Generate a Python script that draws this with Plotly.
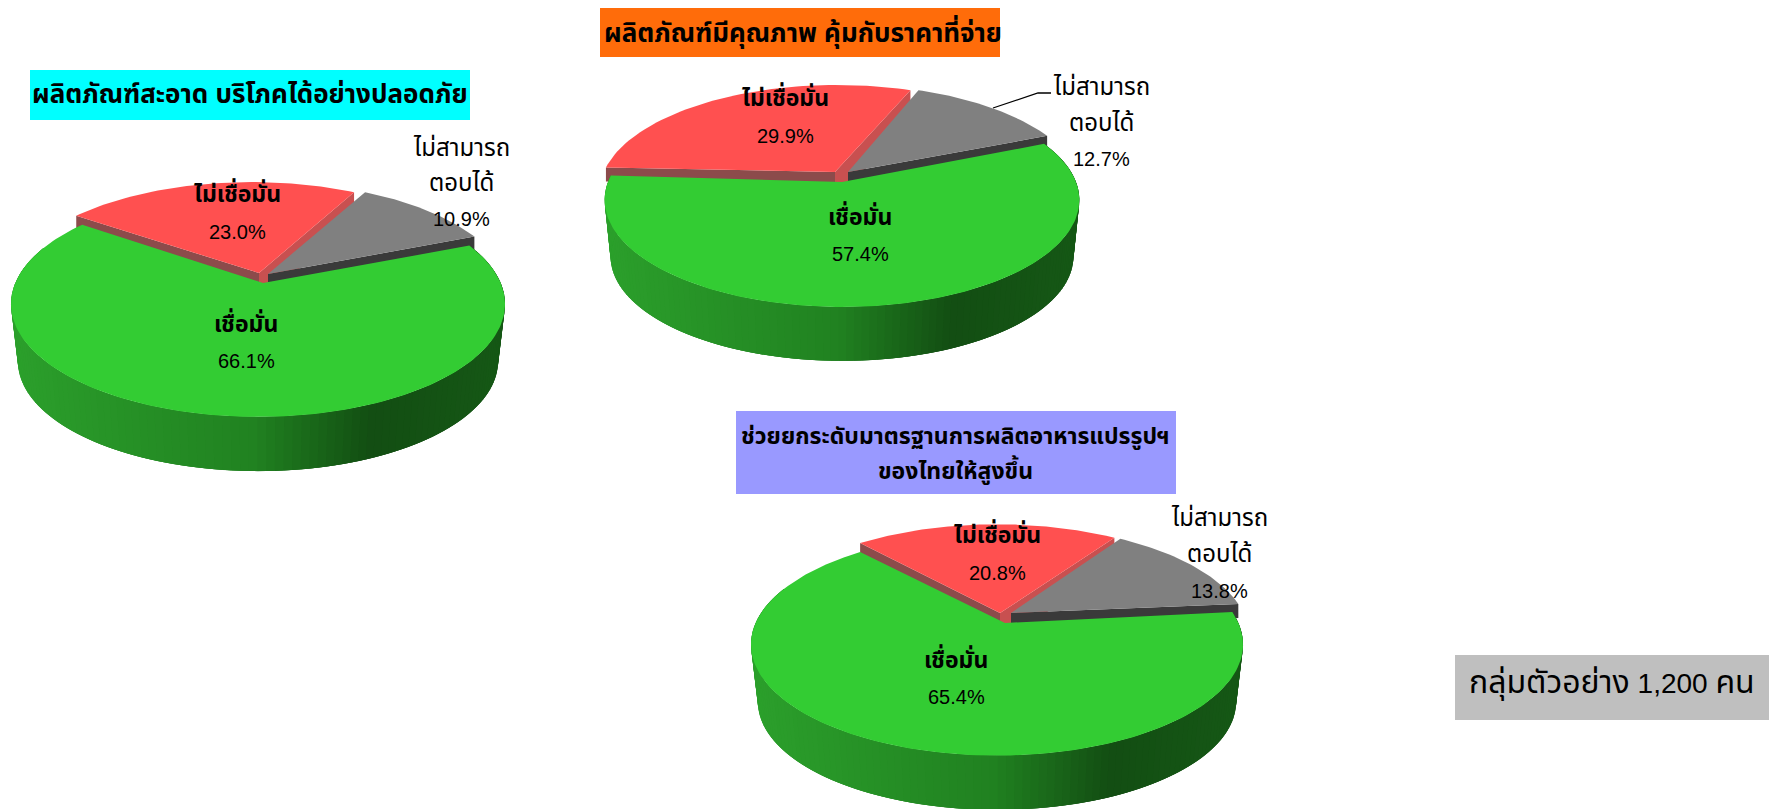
import numpy as np
import plotly.graph_objects as go

W, H_PAGE = 1769, 809

# ---- data ----
slice_names = ["เชื่อมั่น", "ไม่เชื่อมั่น", "ไม่สามารถ|ตอบได้"]
values_clean = [66.1, 23.0, 10.9]
values_quality = [57.4, 29.9, 12.7]
values_standard = [65.4, 20.8, 13.8]
title_clean = "ผลิตภัณฑ์สะอาด บริโภคได้อย่างปลอดภัย"
title_quality = "ผลิตภัณฑ์มีคุณภาพ คุ้มกับราคาที่จ่าย"
title_standard = ["ช่วยยกระดับมาตรฐานการผลิตอาหารแปรรูปฯ", "ของไทยให้สูงขึ้น"]
sample_note = ["กลุ่มตัวอย่าง", "1,200", "คน"]

FONT = "'Liberation Sans', 'Noto Sans Thai', Tahoma, Arial, sans-serif"
GREEN, RED, GREY = "#33cc33", "#ff5050", "#808080"
RED_L, RED_R, GREY_W = "#8c4b4b", "#c85050", "#3a3a3a"
GRAD = [(0, (44, 160, 44)), (0.5, (33, 130, 33)), (0.74, (19, 78, 19)), (1, (22, 88, 22))]
RADIAL_WALL = 14
RED_RIGHT_WALL = 30

pies = [
    dict(values=values_clean, cx=258, ax=263, ay=283, R=242.7, H=109, k=0.186, start=21.5, D=58, sc=0.972,
         red=(-4, -10), grey=(5, -9), red_arc=(-6, -9), grey_arc=(5, -9),
         green_lab=(246, 322, 361), red_lab=(237, 192, 232), grey_lab=(461, 147, 182, 219)),
    dict(values=values_quality, cx=842, ax=842, ay=182, R=234, H=104, k=0.168, start=23, D=57, sc=0.975,
         red=(-7, -10), grey=(6, -10), red_arc=(-5, -8), grey_arc=(3, -8),
         green_lab=(860, 215, 254), red_lab=(785, 96, 136), grey_lab=(1101, 86, 122, 159)),
    dict(values=values_standard, cx=997, ax=1005, ay=623, R=241.4, H=107, k=0.193, start=6, D=58, sc=0.972,
         red=(-5, -10), grey=(6, -10), red_arc=(0, -9), grey_arc=(6, -8),
         green_lab=(956, 658, 697), red_lab=(997, 533, 573), grey_lab=(1219, 517, 553, 591)),
]

fig = go.Figure()


def poly(xs, ys, color, lw=0):
    fig.add_trace(go.Scatter(x=list(xs), y=list(ys), mode="lines", fill="toself", fillcolor=color,
                             line=dict(color=color, width=lw), hoverinfo="skip", showlegend=False))


def grad_color(t):
    for (t0, c0), (t1, c1) in zip(GRAD, GRAD[1:]):
        if t <= t1:
            f = (t - t0) / (t1 - t0)
            return "rgb(%d,%d,%d)" % tuple(c0[i] + f * (c1[i] - c0[i]) for i in range(3))
    return "rgb(%d,%d,%d)" % GRAD[-1][1]


for p in pies:
    def proj(a):
        a = np.radians(a)
        s = 1 / (1 - p["k"] * np.sin(a))
        return p["R"] * np.cos(a) * s, p["H"] * np.sin(a) * s

    def top(a, off=(0, 0)):
        X, Y = proj(a)
        return p["cx"] + X + off[0], p["ay"] + Y + off[1]

    def bot(a, off=(0, 0)):
        X, Y = proj(a)
        return p["cx"] + p["sc"] * X + off[0], p["ay"] + p["sc"] * Y + p["D"] + off[1]

    g, r, y = p["values"]
    a0 = -p["start"]
    a1 = a0 + g * 3.6
    a2 = a1 + r * 3.6
    a3 = a2 + y * 3.6

    # red slice
    rax, ray = p["ax"] + p["red"][0], p["ay"] + p["red"][1]
    ex, ey = top(a1, p["red_arc"])
    poly([rax, ex, ex, rax], [ray, ey, ey + RADIAL_WALL, ray + RADIAL_WALL], RED_L)
    ex, ey = top(a2, p["red_arc"])
    poly([rax, ex, ex, rax], [ray, ey, ey + RED_RIGHT_WALL, ray + RED_RIGHT_WALL], RED_R)
    arc = np.linspace(a1, a2, 60)
    pts = [top(a, p["red_arc"]) for a in arc]
    poly([rax] + [q[0] for q in pts], [ray] + [q[1] for q in pts], RED)

    # grey slice
    gax, gay = p["ax"] + p["grey"][0], p["ay"] + p["grey"][1]
    ex, ey = top(a3, p["grey_arc"])
    poly([gax, ex, ex, gax], [gay, ey, ey + RADIAL_WALL, gay + RADIAL_WALL], GREY_W)
    arc = np.linspace(a2, a3, 40)
    pts = [top(a, p["grey_arc"]) for a in arc]
    poly([gax] + [q[0] for q in pts], [gay] + [q[1] for q in pts], GREY)

    # green wall, shaded across its width; each band overlaps the next to hide seams
    half = p["R"] / np.sqrt(1 - p["k"] ** 2)
    left, right = p["cx"] - half, p["cx"] + half
    wall = np.linspace(a0, min(a1, 200), 130)
    for i in range(len(wall) - 1):
        seg = wall[i:i + 4]
        tops = [top(a) for a in seg]
        bots = [bot(a) for a in seg[::-1]]
        t = np.clip((top(wall[i])[0] - left) / (right - left), 0, 1)
        poly([q[0] for q in tops + bots], [q[1] for q in tops + bots], grad_color(t))

    # green top
    arc = np.linspace(a0, a1, 180)
    pts = [top(a) for a in arc]
    poly([p["ax"]] + [q[0] for q in pts], [p["ay"]] + [q[1] for q in pts], GREEN)


def label(x, y, text, size=20, bold=False):
    if bold:
        text = "<b>%s</b>" % text
    fig.add_annotation(x=x, y=y, text=text, showarrow=False, xanchor="center", yanchor="middle",
                       font=dict(family=FONT, size=size, color="black"))


for p in pies:
    g, r, y = p["values"]
    gx, g1, g2 = p["green_lab"]
    label(gx, g1, slice_names[0], size=23, bold=True)
    label(gx, g2, "%.1f%%" % g)
    rx, r1, r2 = p["red_lab"]
    label(rx, r1, slice_names[1], size=23, bold=True)
    label(rx, r2, "%.1f%%" % r)
    tx, t1, t2, t3 = p["grey_lab"]
    a, b = slice_names[2].split("|")
    label(tx, t1, a, size=24)
    label(tx, t2, b, size=24)
    label(tx, t3, "%.1f%%" % y)

boxes = [(30, 470, 70, 120, "#00ffff"), (600, 1000, 8, 57, "#ff6c0a"),
         (736, 1176, 411, 494, "#9999ff"), (1455, 1769, 655, 720, "#bfbfbf")]
shapes = [dict(type="rect", xref="x", yref="y", x0=a, x1=b, y0=c, y1=d, fillcolor=col,
               line=dict(width=0), layer="below") for a, b, c, d, col in boxes]
shapes.append(dict(type="path", xref="x", yref="y", path="M 1051 93 L 1038 93 L 993 108",
                   line=dict(color="black", width=1.3)))

label(250, 94, title_clean, size=26, bold=True)
label(803, 32, title_quality, size=26, bold=True)
label(955, 436, title_standard[0], size=23, bold=True)
label(955, 470, title_standard[1], size=23, bold=True)
label(1612, 682, '<span style="font-size:32px">%s</span> %s <span style="font-size:32px">%s</span>'
      % tuple(sample_note), size=28)

fig.update_layout(width=W, height=H_PAGE, margin=dict(l=0, r=0, t=0, b=0), showlegend=False,
                  paper_bgcolor="white", plot_bgcolor="white", shapes=shapes,
                  xaxis=dict(range=[0, W], visible=False, fixedrange=True),
                  yaxis=dict(range=[H_PAGE, 0], visible=False, fixedrange=True))
fig.write_html("out.html", post_script="document.body.style.margin='0';document.body.style.overflow='hidden';",
               config={"displayModeBar": False})
